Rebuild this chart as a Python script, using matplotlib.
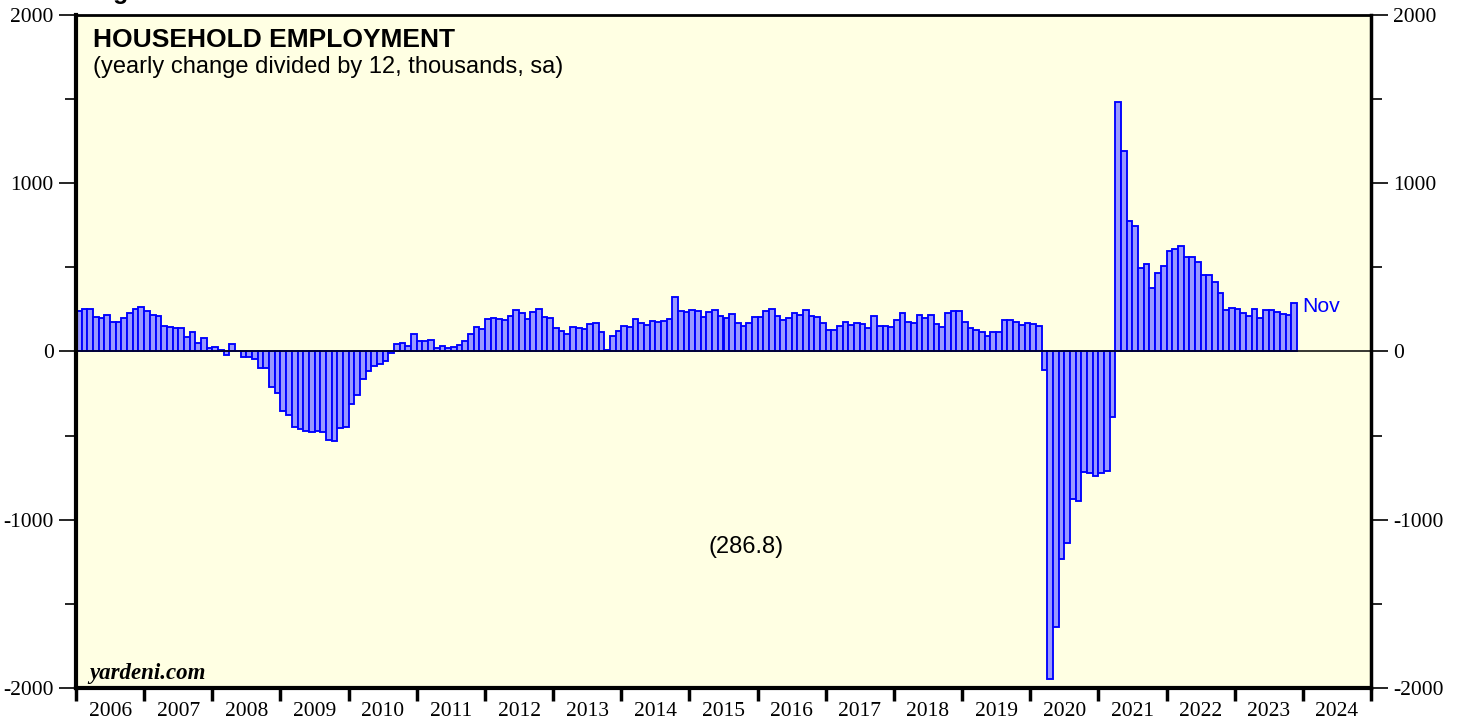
import matplotlib
matplotlib.use("Agg")
import matplotlib.pyplot as plt
import numpy as np

# Household employment, yearly change divided by 12 (thousands, sa), monthly Jan 2006 - Nov 2023
y2006 = [238, 251, 253, 208, 202, 218, 178, 178, 198, 228, 251, 265]
y2007 = [238, 214, 212, 149, 147, 139, 137, 85, 115, 50, 83, 20]
y2008 = [24, 8, -22, 42, 3, -30, -34, -44, -101, -99, -210, -244]
y2009 = [-352, -378, -449, -459, -473, -479, -473, -477, -525, -533, -453, -446]
y2010 = [-313, -257, -166, -113, -85, -73, -59, -10, 46, 53, 30, 105]
y2011 = [63, 63, 71, 20, 30, 18, 24, 40, 61, 103, 145, 133]
y2012 = [192, 202, 196, 190, 212, 248, 226, 192, 236, 251, 208, 200]
y2013 = [139, 123, 103, 143, 137, 131, 162, 168, 113, 8, 93, 119]
y2014 = [152, 145, 192, 168, 160, 184, 176, 180, 194, 323, 242, 234]
y2015 = [248, 240, 204, 234, 246, 212, 198, 220, 168, 149, 168, 208]
y2016 = [208, 238, 255, 210, 188, 198, 226, 216, 244, 210, 204, 168]
y2017 = [125, 127, 150, 178, 160, 172, 166, 141, 210, 149, 150, 143]
y2018 = [186, 226, 178, 168, 214, 202, 214, 164, 143, 230, 240, 240]
y2019 = [174, 140, 126, 114, 95, 115, 114, 187, 189, 173, 160, 168]
y2020 = [166, 152, -107, -1948, -1636, -1236, -1140, -879, -889, -715, -725, -737]
y2021 = [-721, -711, -390, 1485, 1192, 778, 746, 499, 519, 376, 465, 507]
y2022 = [600, 610, 630, 564, 564, 529, 453, 453, 412, 347, 248, 261]
y2023 = [251, 228, 212, 251, 200, 246, 248, 232, 224, 218, 286.8]

start_year = 2006
year_labels = [str(y) for y in range(2006, 2025)]
y_ticks = [-2000, -1000, 0, 1000, 2000]
last_label = "Nov"
last_value_text = "(286.8)"

values = np.array(y2006 + y2007 + y2008 + y2009 + y2010 + y2011 + y2012 + y2013 +
                  y2014 + y2015 + y2016 + y2017 + y2018 + y2019 + y2020 + y2021 +
                  y2022 + y2023, dtype=float)
x = start_year + np.arange(len(values)) / 12.0

W, H = 1463, 719
fig = plt.figure(figsize=(W / 100, H / 100), dpi=100)
ax = fig.add_axes([76 / W, 1 - 688 / H, (1371 - 76) / W, (688 - 15) / H])
ax.set_facecolor("#FFFFE3")

ax.bar(x, values, width=1 / 12, align="edge", color="#9999FF",
       edgecolor="#0000FF", linewidth=1.35, zorder=2)
ax.axhline(0, color="black", lw=1.1, zorder=3)

ax.set_xlim(2006, 2025)
ax.set_ylim(-2000, 2000)

# x axis: year separators as major ticks, labels centred on minor ticks
ax.set_xticks(np.arange(2006, 2026))
ax.set_xticklabels([])
ax.set_xticks(np.arange(2006, 2025) + 0.5, minor=True)
ax.set_xticklabels(year_labels, minor=True)
ax.tick_params(axis="x", which="major", direction="out", length=9, width=2.5, color="black")
ax.tick_params(axis="x", which="minor", length=0, pad=10, labelsize=15.5,
               labelfontfamily="Liberation Serif")

# y axis both sides
ax.set_yticks(y_ticks)
ax.set_yticklabels([str(v) for v in y_ticks])
ax.set_yticks([-1500, -500, 500, 1500], minor=True)
ax.tick_params(axis="y", which="both", left=True, right=True, labelleft=True,
               labelright=True, direction="out", color="black")
ax.tick_params(axis="y", which="major", length=12, width=1.2, pad=4, labelsize=15.5,
               labelfontfamily="Liberation Serif")
ax.tick_params(axis="y", which="minor", length=8, width=1.2)

for side, lw in [("left", 3), ("bottom", 3), ("right", 2.5), ("top", 2)]:
    ax.spines[side].set_linewidth(lw)
    ax.spines[side].set_color("black")

# texts
ax.text(0.013, 0.952, "HOUSEHOLD EMPLOYMENT", transform=ax.transAxes,
        fontsize=19, fontweight="bold", family="Liberation Sans", va="baseline")
ax.text(0.013, 0.914, "(yearly change divided by 12, thousands, sa)", transform=ax.transAxes,
        fontsize=17, family="Liberation Sans", va="baseline")
ax.text(0.010, 0.013, "yardeni.com", transform=ax.transAxes, fontsize=16.5,
        fontweight="bold", fontstyle="italic", family="Liberation Serif", va="baseline")
ax.text(2015.83, -1160, last_value_text, fontsize=17, family="Liberation Sans",
        ha="center", va="center")
ax.text(x[-1] + 1 / 12 + 0.08, values[-1] - 20, last_label, fontsize=15.3,
        family="Liberation Sans", color="#0000FF", ha="left", va="center")

fig.text(91 / W, 1 + 1 / H, "Figure 1.", fontsize=18, fontweight="bold",
         family="Liberation Sans", va="baseline")

fig.savefig("out.png", dpi=100, facecolor="white")
